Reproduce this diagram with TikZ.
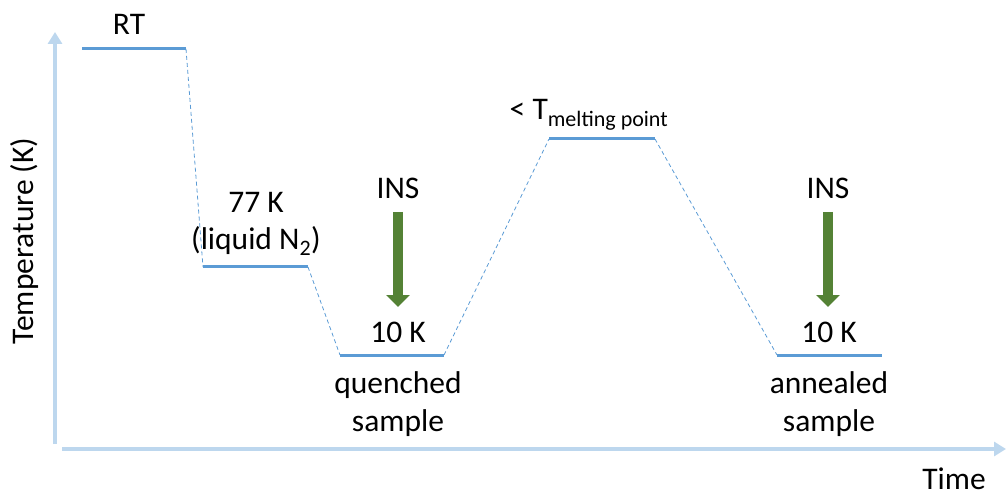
\documentclass[tikz,border=0pt]{standalone}
\usepackage{fontspec}
\setmainfont{Carlito}
\usetikzlibrary{arrows.meta}
\definecolor{axisblue}{HTML}{BDD7EE}
\definecolor{levelblue}{HTML}{5B9BD5}
\definecolor{insgreen}{HTML}{548235}
\tikzset{
  axisline/.style={draw=axisblue,line width=3.5pt,-{Triangle[width=14pt,length=12pt]}},
  level/.style={draw=levelblue,line width=3pt},
  ramp/.style={draw=levelblue,line width=0.8pt,dash pattern=on 4pt off 3pt},
  insarrow/.style={draw=insgreen,line width=10pt,-{Triangle[width=23pt,length=12pt]}},
  lbl/.style={inner sep=0pt,anchor=base,font=\fontsize{31.5}{36}\selectfont},
}
\begin{document}
\begin{tikzpicture}[x=1pt,y=-1pt]
\useasboundingbox (0,0) rectangle (1006,494);
% axes
\coordinate (yb) at (55,444);
\coordinate (yt) at (55,32);
\coordinate (xl) at (62,449);
\coordinate (xr) at (1006,449);
\draw[axisline] (yb) -- (yt);
\draw[axisline] (xl) -- (xr);
% level end points
\coordinate (rtA) at (82,49);   \coordinate (rtB) at (186,49);
\coordinate (lnA) at (203,267); \coordinate (lnB) at (308,267);
\coordinate (qA) at (340,355);  \coordinate (qB) at (444,355);
\coordinate (mA) at (549,139);  \coordinate (mB) at (655,139);
\coordinate (aA) at (777,355);  \coordinate (aB) at (882,355);
\draw[level] (rtA) -- (rtB);
\draw[level] (lnA) -- (lnB);
\draw[level] (qA) -- (qB);
\draw[level] (mA) -- (mB);
\draw[level] (aA) -- (aB);
\draw[ramp] (rtB) -- (lnA);
\draw[ramp] (lnB) -- (qA);
\draw[ramp] (qB) -- (mA);
\draw[ramp] (mB) -- (aA);
% labels
\node[lbl] (rt) at (129,35) {RT};
\node[lbl] (n77) at (256,213) {77 K};
\node[lbl] (liq) at (256,250) {(liquid N\textsubscript{2})};
\node[lbl] (q10) at (398,342) {10 K};
\node[lbl] (quen) at (398,393) {quenched};
\node[lbl] (qs) at (398,431) {sample};
\node[lbl] (melt) at (589,120) {< T\textsubscript{melting point}};
\node[lbl] (a10) at (829,342) {10 K};
\node[lbl] (ann) at (829,393) {annealed};
\node[lbl] (as) at (829,431) {sample};
\node[lbl] (ins1) at (398,199) {INS};
\node[lbl] (ins2) at (828,199) {INS};
\node[lbl] (time) at (954,489) {Time};
\node[inner sep=0pt,font=\fontsize{31.5}{36}\selectfont,rotate=90] (temp) at (25,241) {Temperature (K)};
% INS arrows
\coordinate (i1s) at (398,212); \coordinate (i1e) at (398,307);
\coordinate (i2s) at (828,212); \coordinate (i2e) at (828,307);
\draw[insarrow] (i1s) -- (i1e);
\draw[insarrow] (i2s) -- (i2e);
\end{tikzpicture}
\end{document}
